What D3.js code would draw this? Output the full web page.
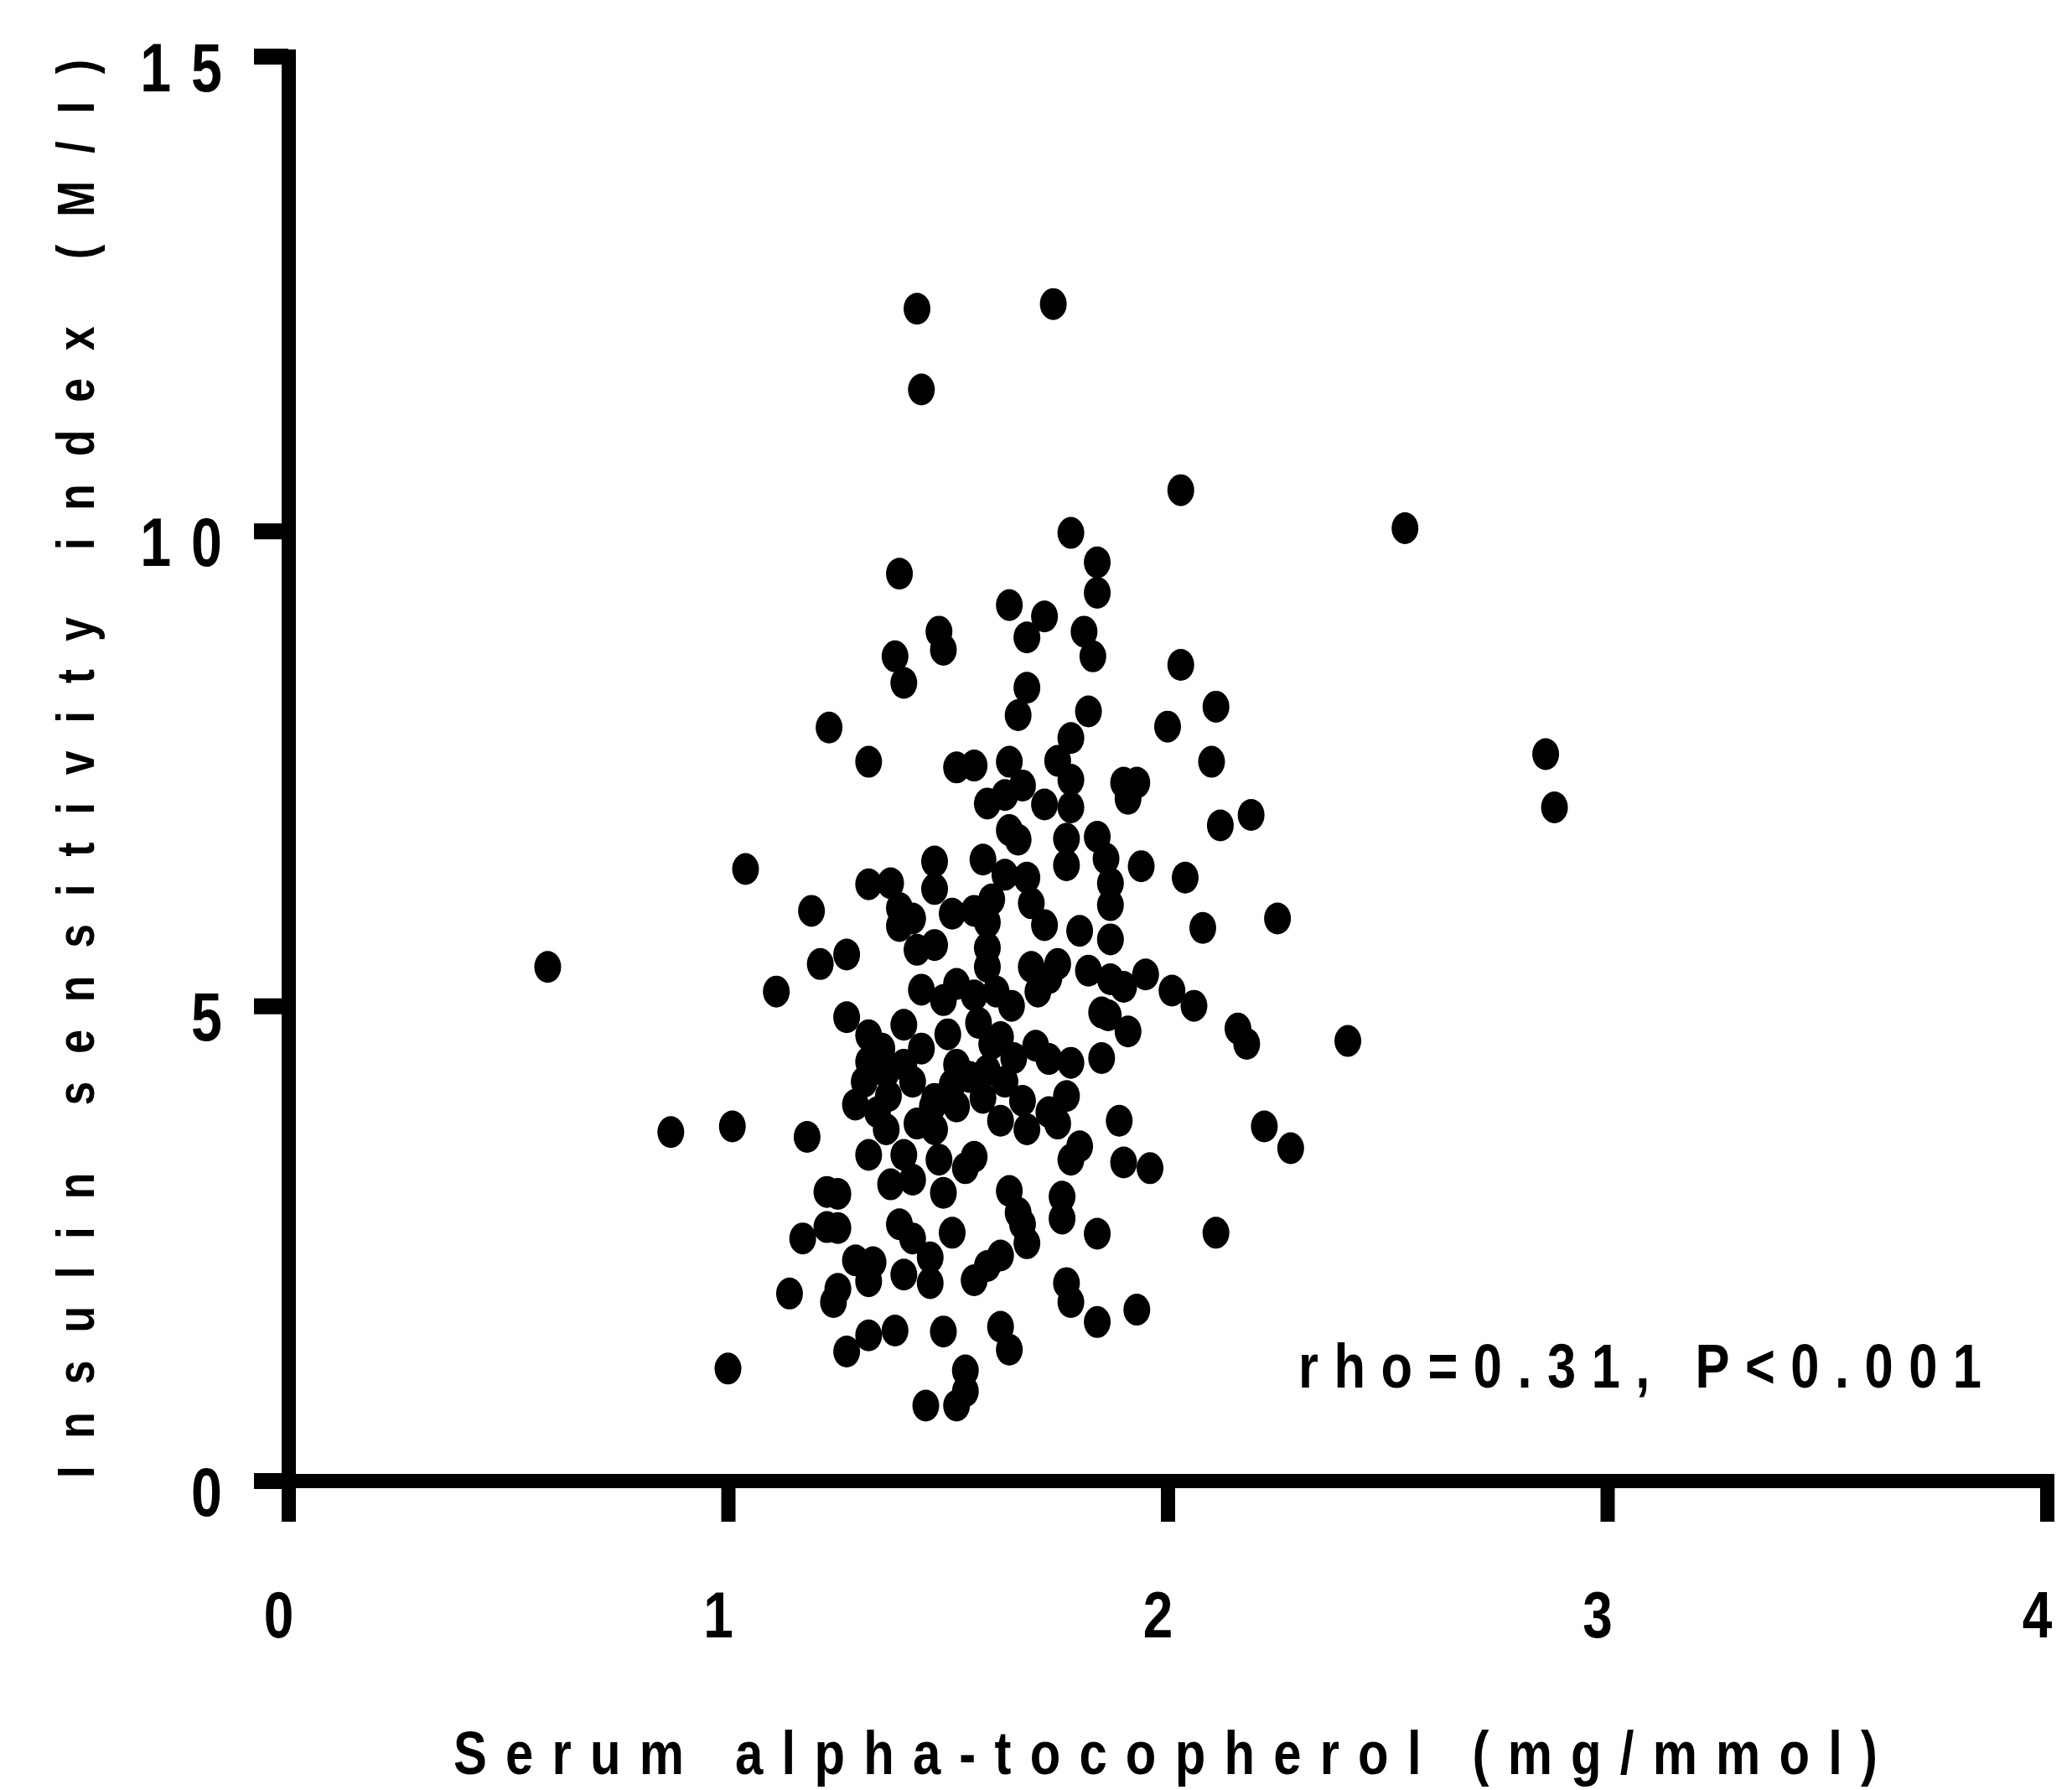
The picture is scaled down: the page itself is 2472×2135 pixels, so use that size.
<!DOCTYPE html>
<html>
<head>
<meta charset="utf-8">
<script src="https://cdn.jsdelivr.net/npm/d3@7"></script>
<style>
  body { margin: 0; background: #fff; }
  svg { display: block; }
</style>
</head>
<body>
<div id="chart"></div>
<script>
/* =========================
   DATA
   ========================= */

// serum alpha-tocopherol (mg/mmol), one entry per subject
const alphaToco = [
  0.59, 0.87, 1.00, 1.01, 1.04, 1.11, 1.14, 1.17, 1.18, 1.19, 1.21, 1.23, 1.225, 1.25, 1.225, 1.25,
  1.24, 1.25, 1.27, 1.27, 1.27, 1.29, 1.29, 1.32, 1.32, 1.32, 1.32, 1.31, 1.32, 1.32, 1.32, 1.33,
  1.34, 1.36, 1.365, 1.37, 1.37, 1.38, 1.38, 1.39, 1.39, 1.39, 1.39, 1.40, 1.40, 1.40, 1.40, 1.40,
  1.42, 1.42, 1.42, 1.42, 1.43, 1.43, 1.43, 1.44, 1.44, 1.45, 1.46, 1.46, 1.465, 1.47, 1.47, 1.47,
  1.47, 1.48, 1.48, 1.49, 1.49, 1.49, 1.49, 1.51, 1.51, 1.51, 1.52, 1.52, 1.52, 1.52, 1.52, 1.54,
  1.54, 1.54, 1.56, 1.56, 1.56, 1.56, 1.56, 1.57, 1.58, 1.58, 1.59, 1.59, 1.59, 1.59, 1.59, 1.59,
  1.60, 1.61, 1.62, 1.62, 1.62, 1.62, 1.63, 1.63, 1.63, 1.64, 1.64, 1.64, 1.645, 1.64, 1.64, 1.66,
  1.66, 1.66, 1.67, 1.67, 1.67, 1.68, 1.68, 1.68, 1.68, 1.68, 1.69, 1.69, 1.70, 1.705, 1.72, 1.72,
  1.72, 1.73, 1.73, 1.73, 1.74, 1.75, 1.75, 1.75, 1.76, 1.76, 1.77, 1.77, 1.77, 1.77, 1.78, 1.78,
  1.78, 1.78, 1.78, 1.78, 1.78, 1.80, 1.80, 1.81, 1.82, 1.82, 1.83, 1.84, 1.84, 1.84, 1.84, 1.84,
  1.85, 1.865, 1.85, 1.86, 1.87, 1.87, 1.87, 1.87, 1.89, 1.90, 1.90, 1.90, 1.91, 1.91, 1.93, 1.93,
  1.94, 1.95, 1.96, 2.00, 2.01, 2.03, 2.03, 2.04, 2.06, 2.08, 2.10, 2.11, 2.11, 2.12, 2.16, 2.18,
  2.19, 2.22, 2.25, 2.28, 2.41, 2.54, 2.86, 2.88,
  // hidden in the dense core
  1.36, 1.44, 1.47, 1.55, 1.60, 1.65, 1.35, 1.50
];

// insulin sensitivity index (M/I), same order
const insulinSens = [
  5.41, 3.67, 1.18, 3.73, 6.44, 5.15, 1.97, 2.55, 3.62, 6.00, 5.44, 7.93, 3.04, 3.02, 2.67, 2.66,
  1.88, 2.02, 5.54, 4.88, 1.36, 2.32, 3.96, 7.57, 6.28, 4.69, 4.41, 4.20, 3.43, 2.10, 1.53, 2.30,
  3.88, 3.70, 4.05, 6.29, 3.12, 8.68, 1.58, 9.55, 6.03, 5.84, 2.70, 8.40, 4.80, 4.38, 3.43, 2.17,
  5.92, 4.20, 3.17, 2.55, 12.34, 5.59, 3.76, 11.49, 5.17, 0.79, 2.35, 2.08, 3.94, 6.52, 6.23, 5.64,
  3.70, 3.38, 8.94, 8.75, 5.06, 3.03, 1.57, 5.97, 4.17, 2.61, 7.51, 5.23, 4.38, 3.94, 0.79, 3.29,
  1.16, 0.94, 7.53, 6.00, 5.11, 3.41, 2.11, 4.82, 6.54, 4.03, 7.13, 5.61, 5.41, 4.32, 2.26, 5.88,
  6.12, 5.15, 4.67, 3.79, 2.37, 1.62, 7.22, 6.38, 4.20, 9.22, 7.57, 6.85, 5.00, 3.05, 1.38, 8.06,
  6.75, 2.82, 7.32, 4.00, 2.70, 8.88, 8.35, 6.35, 3.70, 2.50, 6.08, 5.41, 4.58, 5.15, 9.10, 7.12,
  5.85, 5.29, 4.44, 3.88, 12.39, 7.58, 5.44, 3.76, 2.99, 2.76, 4.05, 6.76, 6.48, 2.08, 9.98, 7.82,
  7.09, 7.38, 4.40, 3.38, 1.88, 5.79, 3.52, 8.94, 8.10, 5.37, 8.68, 9.67, 9.35, 6.78, 2.60, 1.67,
  4.93, 4.90, 4.45, 6.55, 6.29, 6.06, 5.70, 5.28, 3.79, 7.35, 5.20, 3.35, 7.18, 4.73, 7.35, 1.80,
  6.47, 5.33, 3.29, 7.94, 5.16, 10.43, 8.59, 6.35, 5.00, 5.82, 7.57, 8.15, 2.61, 6.90, 4.76, 4.60,
  7.01, 3.73, 5.92, 3.50, 4.63, 10.03, 7.65, 7.09,
  4.30, 4.55, 4.02, 4.25, 4.60, 4.45, 4.55, 4.70
];

const xTicks = [0, 1, 2, 3, 4];
const yTicks = [0, 5, 10, 15];

const xTitle = "Serum alpha-tocopherol (mg/mmol)";
const yTitle = "Insulin sensitivity index (M/I)";
const statNote = "rho=0.31, P<0.001";

/* =========================
   CONFIGURATION
   ========================= */

const WIDTH = 2472;
const HEIGHT = 2135;
const FONT = "'Liberation Sans', Arial, sans-serif";
const NARROW = 0.82; // glyphs in the source are condensed

const x = d3.scaleLinear().domain([0, 4]).range([344, 2442]);
const y = d3.scaleLinear().domain([0, 15]).range([1766, 67]);

/* =========================
   SVG
   ========================= */

const svg = d3.select("#chart")
  .append("svg")
  .attr("width", WIDTH)
  .attr("height", HEIGHT);

svg.append("rect")
  .attr("width", WIDTH)
  .attr("height", HEIGHT)
  .attr("fill", "#fff");

/* =========================
   POINTS
   ========================= */

const points = alphaToco.map((v, i) => ({ x: v, y: insulinSens[i] }));

svg.append("g")
  .selectAll("ellipse")
  .data(points)
  .enter()
  .append("ellipse")
  .attr("cx", d => x(d.x))
  .attr("cy", d => y(d.y))
  .attr("rx", 16)
  .attr("ry", 19)
  .attr("fill", "#000");

/* =========================
   AXES
   ========================= */

const gx = svg.append("g")
  .attr("transform", `translate(0,${y(0)})`)
  .call(d3.axisBottom(x).tickValues(xTicks).tickSize(49).tickSizeOuter(49).tickFormat(d3.format("d")));

gx.select(".domain").attr("stroke", "#000").attr("stroke-width", 17);
gx.selectAll(".tick line").attr("stroke", "#000").attr("stroke-width", 17);
gx.selectAll(".tick text")
  .attr("transform", `scale(${NARROW},1)`)
  .attr("y", 187)
  .attr("x", -12 / NARROW)
  .attr("dy", 0)
  .attr("fill", "#000")
  .style("font-family", FONT)
  .style("font-weight", "bold")
  .style("font-size", "78px");

const gy = svg.append("g")
  .attr("transform", `translate(${x(0)},0)`)
  .call(d3.axisLeft(y).tickValues(yTicks).tickSize(41).tickSizeOuter(41).tickFormat(d3.format("d")));

gy.select(".domain").attr("stroke", "#000").attr("stroke-width", 17);
gy.selectAll(".tick line").attr("stroke", "#000").attr("stroke-width", 19);
gy.selectAll(".tick text")
  .attr("transform", `scale(${NARROW},1)`)
  .attr("x", (-79 + 24) / NARROW)
  .attr("y", 41)
  .attr("dy", 0)
  .attr("fill", "#000")
  .style("letter-spacing", (24 / NARROW) + "px")
  .style("font-family", FONT)
  .style("font-weight", "bold")
  .style("font-size", "81px");

/* =========================
   TITLES & NOTE
   ========================= */

svg.append("text")
  .attr("transform", `scale(${NARROW},1)`)
  .attr("x", 541 / NARROW)
  .attr("y", 2116)
  .attr("textLength", 1699 / NARROW)
  .attr("lengthAdjust", "spacing")
  .style("font-family", FONT)
  .style("font-weight", "bold")
  .style("font-size", "73px")
  .text(xTitle);

svg.append("text")
  .attr("transform", `translate(112,1763) rotate(-90) scale(${NARROW},1)`)
  .attr("textLength", 1692 / NARROW)
  .attr("lengthAdjust", "spacing")
  .style("font-family", FONT)
  .style("font-weight", "bold")
  .style("font-size", "63px")
  .text(yTitle);

svg.append("text")
  .attr("transform", `scale(${NARROW},1)`)
  .attr("x", 1549 / NARROW)
  .attr("y", 1655)
  .attr("textLength", 815 / NARROW)
  .attr("lengthAdjust", "spacing")
  .style("font-family", FONT)
  .style("font-weight", "bold")
  .style("font-size", "75px")
  .text(statNote);
</script>
</body>
</html>
